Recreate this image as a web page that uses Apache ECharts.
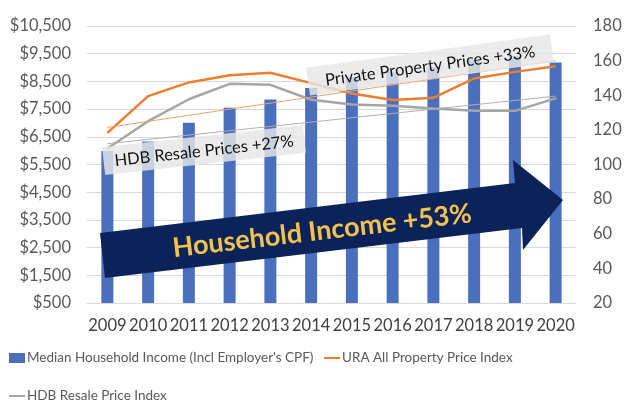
<!DOCTYPE html>
<html>
<head>
<meta charset="utf-8">
<script src="https://cdn.jsdelivr.net/npm/echarts@6/dist/echarts.min.js"></script>
<style>
  html, body { margin: 0; padding: 0; background: #fff; }
  #chart { width: 640px; height: 403px; }
</style>
</head>
<body>
<div id="chart"></div>
<script>
const years = ['2009', '2010', '2011', '2012', '2013', '2014', '2015', '2016', '2017', '2018', '2019', '2020'];
const income = [5990, 6330, 7010, 7550, 7850, 8260, 8660, 8850, 9020, 9290, 9420, 9180];
const uraIndex = [118.3, 139.5, 147.4, 151.5, 153, 147, 141, 137.2, 138.5, 149.7, 153.5, 156.8];
const hdbIndex = [109.2, 125, 137.7, 146.6, 146, 137.4, 134.7, 134, 132.4, 131, 131, 138.2];
// hand drawn trend lines, start (2009) and end (2020) only
const uraTrend = [121.4, null, null, null, null, null, null, null, null, null, null, 160];
const hdbTrend = [112, null, null, null, null, null, null, null, null, null, null, 139.5];

const font = 'Lato, "Open Sans", sans-serif';
const deg = Math.PI / 180;
const legendText = { fontSize: 13.5, color: '#595959', padding: [0, 0, 0, -3] };

let chart = echarts.init(document.getElementById('chart'));

let option = {
  animation: false,
  textStyle: { fontFamily: font },
  grid: {
    left: 87, right: 64, top: 26, bottom: 100,
    containLabel: false,
    outerBoundsMode: 'none'
  },
  legend: [
    {
      left: 4, top: 346,
      itemWidth: 16, itemHeight: 10,
      icon: 'rect',
      textStyle: legendText,
      data: ["Median Household Income (Incl Employer's CPF)"]
    },
    {
      left: 319, top: 346,
      itemWidth: 16, itemHeight: 2,
      icon: 'rect',
      textStyle: legendText,
      data: ['URA All Property Price Index']
    },
    {
      left: 4, top: 384,
      itemWidth: 16, itemHeight: 2,
      icon: 'rect',
      textStyle: legendText,
      data: ['HDB Resale Price Index']
    }
  ],
  xAxis: {
    type: 'category',
    data: years,
    axisTick: { show: false },
    axisLine: { lineStyle: { color: '#d9d9d9', width: 1 } },
    axisLabel: { fontSize: 16.5, color: '#404040', margin: 14, interval: 0 }
  },
  yAxis: [
    {
      type: 'value',
      min: 500, max: 10500, interval: 1000,
      axisLine: { show: false },
      axisTick: { show: false },
      splitLine: { lineStyle: { color: '#d9d9d9', width: 1 } },
      axisLabel: {
        fontSize: 16.5, color: '#595959', margin: 16,
        formatter: v => '$' + v.toLocaleString('en-US')
      }
    },
    {
      type: 'value',
      min: 20, max: 180, interval: 20,
      axisLine: { show: false },
      axisTick: { show: false },
      splitLine: { show: false },
      axisLabel: { fontSize: 16.5, color: '#595959', margin: 17 }
    }
  ],
  series: [
    {
      name: "Median Household Income (Incl Employer's CPF)",
      type: 'bar',
      data: income,
      barWidth: 12,
      itemStyle: { color: '#4a6fbd' },
      z: 2
    },
    {
      name: 'URA All Property Price Index',
      type: 'line',
      yAxisIndex: 1,
      data: uraIndex,
      symbol: 'none',
      lineStyle: { color: '#ed7d31', width: 2.5 },
      itemStyle: { color: '#ed7d31' },
      z: 3
    },
    {
      name: 'HDB Resale Price Index',
      type: 'line',
      yAxisIndex: 1,
      data: hdbIndex,
      symbol: 'none',
      lineStyle: { color: '#a5a5a5', width: 2.5, cap: 'round' },
      itemStyle: { color: '#a5a5a5' },
      z: 3
    },
    {
      name: 'URA trend',
      type: 'line',
      yAxisIndex: 1,
      data: uraTrend,
      connectNulls: true,
      symbol: 'none',
      lineStyle: { color: '#f0a06a', width: 1 },
      z: 3
    },
    {
      name: 'HDB trend',
      type: 'line',
      yAxisIndex: 1,
      data: hdbTrend,
      connectNulls: true,
      symbol: 'none',
      lineStyle: { color: '#b0b0b0', width: 1 },
      z: 3
    }
  ],
  graphic: [
    {
      type: 'polygon',
      z: 20,
      shape: {
        points: [[100, 233], [515, 183], [513, 160], [563, 200], [523, 250], [522, 228], [105, 278]]
      },
      style: { fill: '#0b2359' }
    },
    {
      type: 'text',
      z: 21,
      x: 322, y: 231,
      rotation: 6.7 * deg,
      style: {
        text: 'Household Income +53%',
        align: 'center', verticalAlign: 'middle',
        textAlign: 'center', textVerticalAlign: 'middle',
        fontSize: 27, fontWeight: 'bold', fontFamily: font,
        fill: '#f2c14e'
      }
    },
    {
      type: 'group',
      z: 20,
      x: 204, y: 150,
      rotation: 6.3 * deg,
      children: [
        {
          type: 'rect',
          z: 20,
          shape: { x: -101, y: -14, width: 202, height: 28 },
          style: { fill: 'rgba(231,231,231,0.82)' }
        },
        {
          type: 'text',
          z: 21,
          style: {
            text: 'HDB Resale Prices +27%',
            x: 0, y: 1,
            align: 'center', verticalAlign: 'middle',
            textAlign: 'center', textVerticalAlign: 'middle',
            fontSize: 16.5, fontFamily: font, fill: '#111'
          }
        }
      ]
    },
    {
      type: 'group',
      z: 20,
      x: 430, y: 65,
      rotation: 7.8 * deg,
      children: [
        {
          type: 'rect',
          z: 20,
          shape: { x: -123, y: -14, width: 246, height: 28 },
          style: { fill: 'rgba(231,231,231,0.82)' }
        },
        {
          type: 'text',
          z: 21,
          style: {
            text: 'Private Property Prices +33%',
            x: 0, y: 1,
            align: 'center', verticalAlign: 'middle',
            textAlign: 'center', textVerticalAlign: 'middle',
            fontSize: 16.5, fontFamily: font, fill: '#111'
          }
        }
      ]
    }
  ]
};

chart.setOption(option, true);
</script>
</body>
</html>
